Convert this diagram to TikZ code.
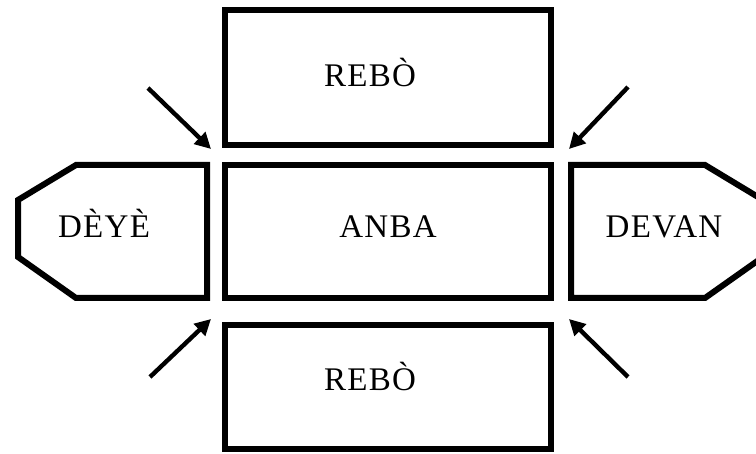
\documentclass[tikz,border=0pt]{standalone}
\usepackage{fontspec}
\setmainfont{Liberation Serif}
\newfontfamily\labfont[LetterSpace=4]{Liberation Serif}
\usetikzlibrary{arrows.meta}

\begin{document}
\begin{tikzpicture}[x=1pt, y=-1pt, box/.style={draw, line width=6pt, minimum width=326pt, inner sep=0pt}, wall/.style={line width=6pt, line join=miter}, arr/.style={-{Triangle[length=16pt, width=16pt]}, line width=4.4pt}, lab/.style={font=\labfont\fontsize{33}{36}\selectfont, anchor=base}]
\useasboundingbox (0,0) rectangle (756,454);
% top, middle and bottom boxes
\node[box, minimum height=135pt] (rebotop) at (388,77.5) {};
\node[box, minimum height=133pt] (anbabox) at (388,231.5) {};
\node[box, minimum height=124pt] (rebobot) at (388,387) {};
% left end (pointing left)
\draw[wall] (207,165) -- (76,165) -- (18,200) -- (18,257) -- (76,298) -- (207,298) -- cycle;
% right end (pointing right, cut by the page)
\draw[wall] (571,165) -- (705,165) -- (763,200) -- (763,257) -- (705,298) -- (571,298) -- cycle;
% labels
\node[lab] (reboa) at (370,87) {REBÒ};
\node[lab] (anba) at (388,238) {ANBA};
\node[lab] (deye) at (104,238) {DÈYÈ};
\node[lab] (devan) at (664,238) {DEVAN};
\node[lab] (rebob) at (370,391) {REBÒ};
% arrows into the four corners
\coordinate (tlA) at (148,88);  \coordinate (tlB) at (211,149);
\coordinate (blA) at (150,377); \coordinate (blB) at (211,319);
\coordinate (trA) at (628,87);  \coordinate (trB) at (569,149);
\coordinate (brA) at (628,377); \coordinate (brB) at (569,319);
\draw[arr] (tlA) -- (tlB);
\draw[arr] (blA) -- (blB);
\draw[arr] (trA) -- (trB);
\draw[arr] (brA) -- (brB);
\end{tikzpicture}
\end{document}
